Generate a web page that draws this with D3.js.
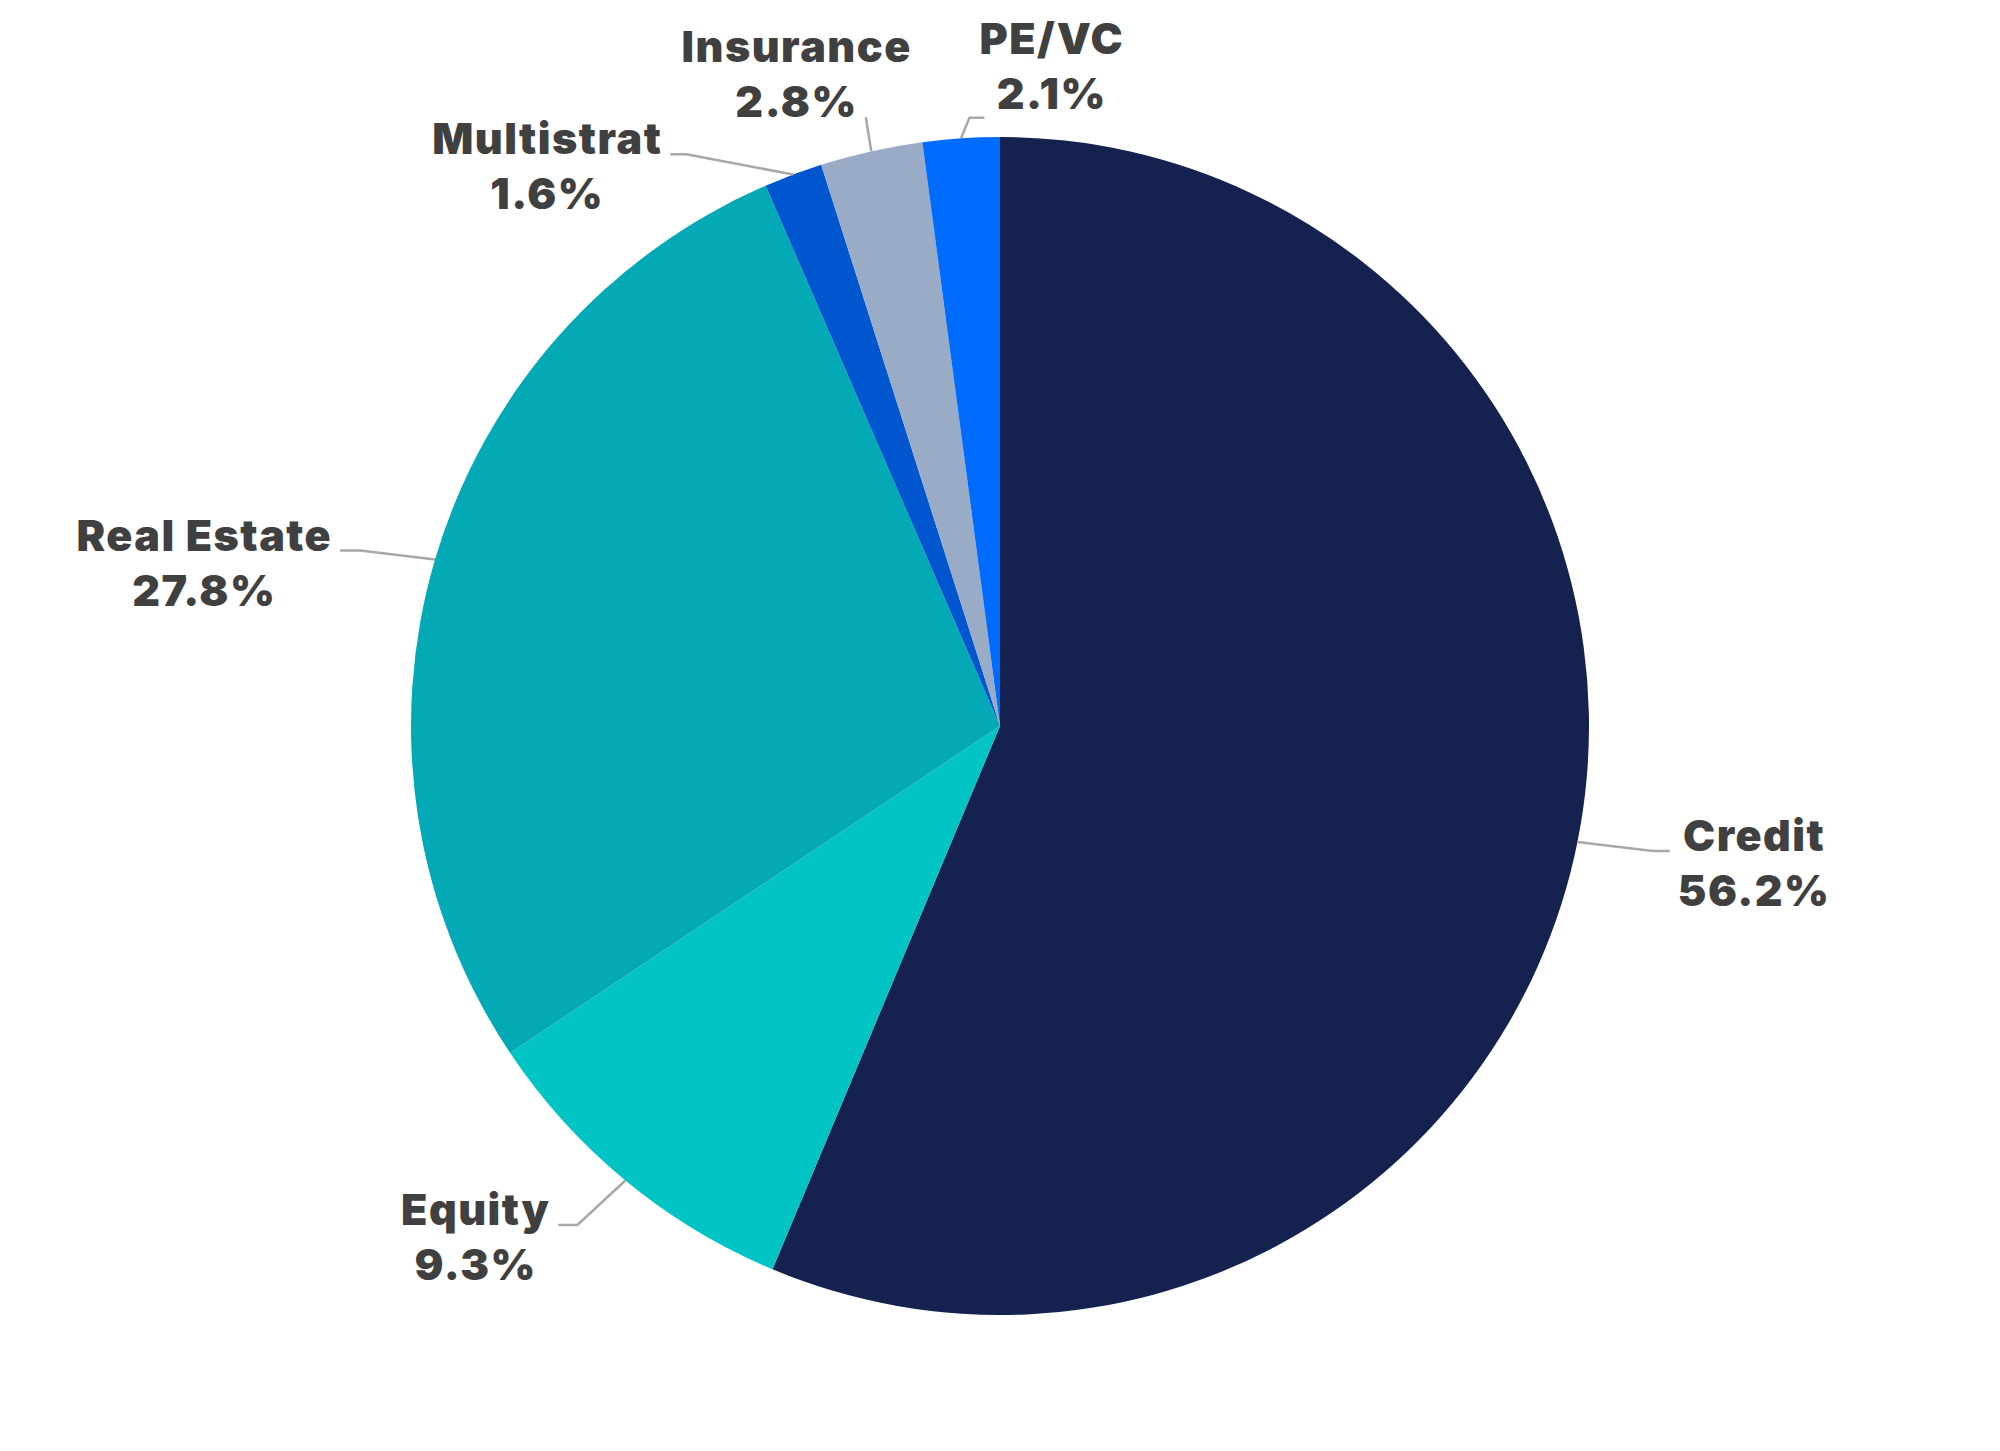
<!DOCTYPE html>
<html lang="en">
<head>
<meta charset="utf-8">
<title>Allocation by strategy</title>
<script src="https://cdn.jsdelivr.net/npm/d3@7"></script>
<style>
  html, body { margin: 0; padding: 0; background: #fff; }
  .slice-label { font-family: Inter, "Open Sans", sans-serif; font-weight: 900; font-size: 43px; letter-spacing: 1.5px; fill: #404040; }
  .leader { fill: none; stroke: #a8a8a8; stroke-width: 2.5; }
</style>
</head>
<body>
<div id="chart"></div>
<script>
  // values
  const categories = ["Credit", "Equity", "Real Estate", "Multistrat", "Insurance", "PE/VC"];
  const shares = [56.2, 9.3, 27.8, 1.6, 2.8, 2.1];
  const sliceColors = ["#15224f", "#03c4c4", "#03aab6", "#0056cf", "#9aabc5", "#006bff"];

  // label placement: nudge of the elbow from its default spot, length of the flat part, where the text sits
  const labelLayout = {
    "Credit":      { nudge: [6, -5],   h: 17,  side: "right" },
    "Equity":      { nudge: [-3, -10], h: -19, side: "left" },
    "Real Estate": { nudge: [-7, 11],  h: -20, side: "left" },
    "Multistrat":  { nudge: [-82, 46], h: -16, side: "left" },
    "Insurance":   { nudge: [10, 35],  h: 0,   side: "aboveLeft" },
    "PE/VC":       { nudge: [13, 50],  h: 15,  side: "aboveRight" }
  };

  var width = 2000, height = 1451;
  var cx = 1000, cy = 726, radius = 589;
  var lineHeight = 55;

  var svg = d3.select("#chart")
    .append("svg")
    .attr("width", width)
    .attr("height", height);

  var g = svg.append("g").attr("transform", "translate(" + cx + "," + cy + ")");

  var pie = d3.pie().sort(null).value(function(d) { return d.value; });
  var arc = d3.arc().innerRadius(0).outerRadius(radius);
  var edgeArc = d3.arc().innerRadius(radius).outerRadius(radius);
  var elbowArc = d3.arc().innerRadius(radius * 1.12).outerRadius(radius * 1.12);

  var data = categories.map(function(c, i) {
    return { name: c, value: shares[i], color: sliceColors[i] };
  });
  var arcs = pie(data);

  g.selectAll("path.slice")
    .data(arcs)
    .enter()
    .append("path")
    .attr("class", "slice")
    .attr("d", arc)
    .attr("fill", function(d) { return d.data.color; });

  // leader lines
  function points(d) {
    var lay = labelLayout[d.data.name];
    var p0 = edgeArc.centroid(d);
    var e = elbowArc.centroid(d);
    var p1 = [e[0] + lay.nudge[0], e[1] + lay.nudge[1]];
    var p2 = [p1[0] + lay.h, p1[1]];
    return [p0, p1, p2];
  }

  g.selectAll("path.leader")
    .data(arcs)
    .enter()
    .append("path")
    .attr("class", "leader")
    .attr("d", function(d) { return d3.line()(points(d)); });

  // labels: name on first line, share on second
  var labels = g.selectAll("g.label")
    .data(arcs)
    .enter()
    .append("g")
    .attr("class", "label");

  labels.each(function(d) {
    var lab = d3.select(this);
    var t1 = lab.append("text").attr("class", "slice-label").attr("text-anchor", "middle").text(d.data.name);
    var t2 = lab.append("text").attr("class", "slice-label").attr("text-anchor", "middle").text(d.data.value.toFixed(1) + "%");
    var w1 = t1.node().getComputedTextLength();
    var w2 = t2.node().getComputedTextLength();
    var w = Math.max(w1, w2);
    var p2 = points(d)[2];
    var side = labelLayout[d.data.name].side;
    var x, y;
    if (side === "right") { x = p2[0] + 8 + w / 2; y = p2[1]; }
    else if (side === "left") { x = p2[0] - 8 - w / 2; y = p2[1]; }
    else if (side === "aboveLeft") { x = p2[0] - 8 - w2 / 2; y = p2[1] - lineHeight; }
    else { x = p2[0] - 5 + w / 2; y = p2[1] - 9 - lineHeight; }
    t1.attr("x", x).attr("y", y);
    t2.attr("x", x).attr("y", y + lineHeight);
  });
</script>
</body>
</html>
